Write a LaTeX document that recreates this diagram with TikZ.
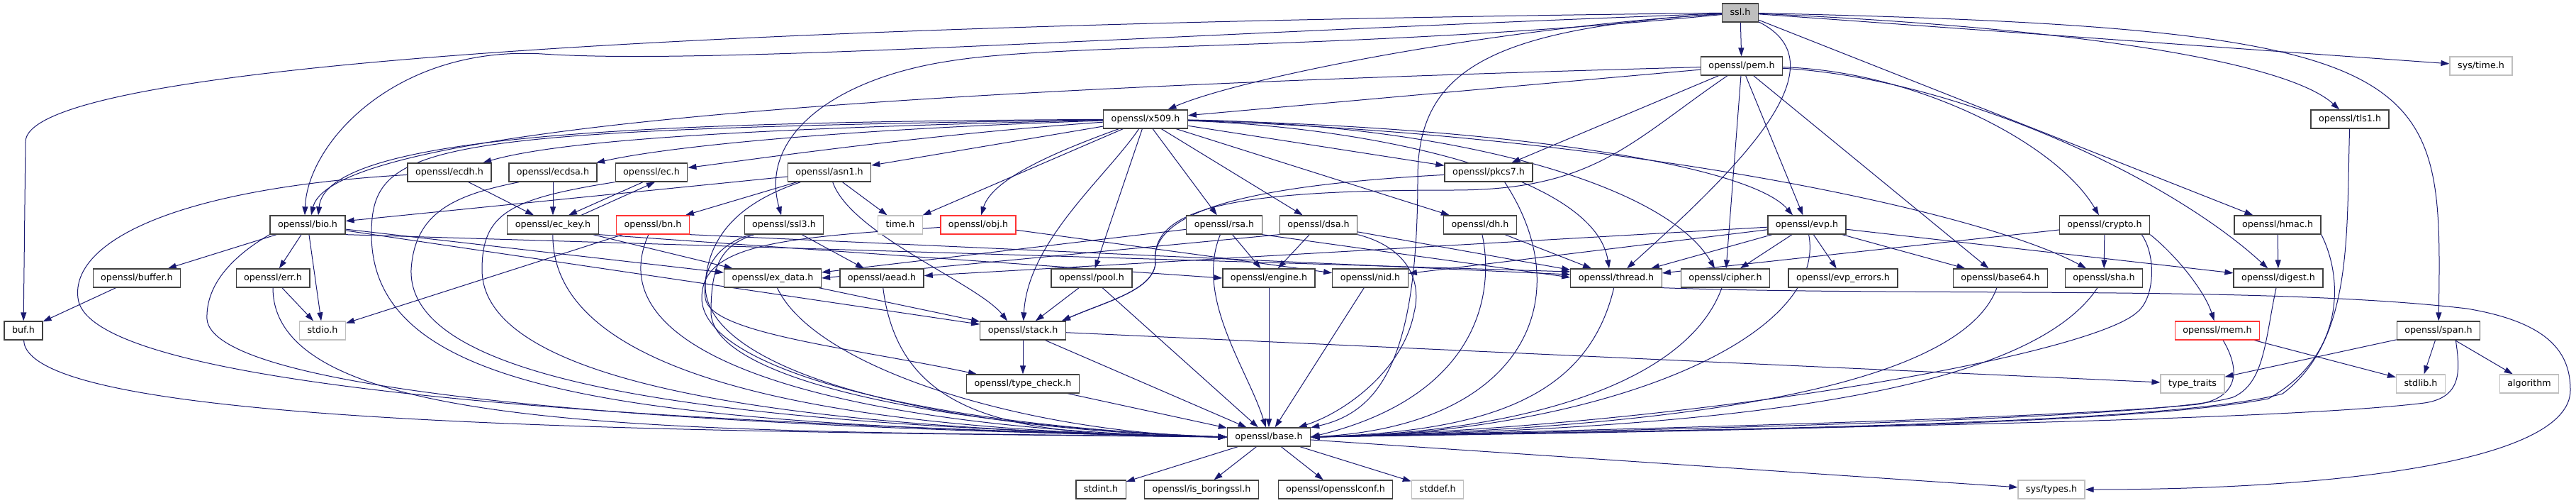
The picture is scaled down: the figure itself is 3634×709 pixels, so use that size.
\documentclass[tikz,border=0pt]{standalone}
\usepackage{fontspec}
\setmainfont{DejaVu Sans}
\usepackage{xcolor}
\usetikzlibrary{arrows.meta,backgrounds}
\definecolor{edgeblue}{HTML}{191970}
\definecolor{boxline}{HTML}{404040}
\definecolor{sysline}{HTML}{BFBFBF}
\definecolor{rootfill}{HTML}{BFBFBF}
\definecolor{missline}{HTML}{FF3333}

\begin{document}
\begin{tikzpicture}[x=1pt,y=-1pt,
      mybox/.style={
         rectangle,
         draw=boxline,
         fill=white,
         line width=1.3pt,
         minimum height=26pt,
         inner xsep=11pt,
         inner ysep=0pt,
         text height=9.5pt,
         text depth=3pt,
         font=\fontsize{12.7}{15}\selectfont},
      graybox/.style={mybox,draw=sysline},
      redbox/.style={mybox,draw=missline},
      rootbox/.style={mybox,fill=rootfill},
      myarrow/.style={draw=edgeblue,line width=1pt,-{Triangle[length=12pt,width=8pt]}}
      ]
      \useasboundingbox (0,0) rectangle (3634,709);

      \node[rootbox] (ssl) at (2455,18) {ssl.h};
      \node[mybox] (pem) at (2457,93) {openssl/pem.h};
      \node[graybox] (systime) at (3500,93) {sys/time.h};
      \node[mybox] (x509) at (1616,168) {openssl/x509.h};
      \node[mybox] (tls1) at (3315,168) {openssl/tls1.h};
      \node[mybox] (ecdh) at (634,243) {openssl/ecdh.h};
      \node[mybox] (ecdsa) at (780,243) {openssl/ecdsa.h};
      \node[mybox] (ec) at (919,243) {openssl/ec.h};
      \node[mybox] (asn1) at (1170,243) {openssl/asn1.h};
      \node[mybox] (pkcs7) at (2100,243) {openssl/pkcs7.h};
      \node[mybox] (bio) at (434,317) {openssl/bio.h};
      \node[mybox] (eckey) at (780,317) {openssl/ec\_key.h};
      \node[redbox] (bn) at (921,317) {openssl/bn.h};
      \node[mybox] (ssl3) at (1106,317) {openssl/ssl3.h};
      \node[graybox] (time) at (1270,317) {time.h};
      \node[redbox] (obj) at (1380,317) {openssl/obj.h};
      \node[mybox] (rsa) at (1727,317) {openssl/rsa.h};
      \node[mybox] (dsa) at (1860,317) {openssl/dsa.h};
      \node[mybox] (dh) at (2088,317) {openssl/dh.h};
      \node[mybox] (evp) at (2549,317) {openssl/evp.h};
      \node[mybox] (crypto) at (2969,317) {openssl/crypto.h};
      \node[mybox] (hmac) at (3213,317) {openssl/hmac.h};
      \node[mybox] (buffer) at (193,392) {openssl/buffer.h};
      \node[mybox] (err) at (385,392) {openssl/err.h};
      \node[mybox] (exdata) at (1090,392) {openssl/ex\_data.h};
      \node[mybox] (aead) at (1244,392) {openssl/aead.h};
      \node[mybox] (pool) at (1540,392) {openssl/pool.h};
      \node[mybox] (engine) at (1790,392) {openssl/engine.h};
      \node[mybox] (nid) at (1933,392) {openssl/nid.h};
      \node[mybox] (thread) at (2280,392) {openssl/thread.h};
      \node[mybox] (cipher) at (2434,392) {openssl/cipher.h};
      \node[mybox] (everr) at (2600,392) {openssl/evp\_errors.h};
      \node[mybox] (b64) at (2822,392) {openssl/base64.h};
      \node[mybox] (sha) at (2968,392) {openssl/sha.h};
      \node[mybox] (digest) at (3214,392) {openssl/digest.h};
      \node[mybox] (buf) at (33,466) {buf.h};
      \node[graybox] (stdio) at (455,466) {stdio.h};
      \node[mybox] (stack) at (1443,466) {openssl/stack.h};
      \node[redbox] (mem) at (3128,466) {openssl/mem.h};
      \node[mybox] (span) at (3440,466) {openssl/span.h};
      \node[mybox] (tcheck) at (1443,541) {openssl/type\_check.h};
      \node[graybox] (traits) at (3093,541) {type\_traits};
      \node[graybox] (stdlib) at (3415,541) {stdlib.h};
      \node[graybox] (algo) at (3568,541) {algorithm};
      \node[mybox] (base) at (1790,616) {openssl/base.h};
      \node[mybox] (stdint) at (1553,690) {stdint.h};
      \node[mybox] (isbssl) at (1695,690) {openssl/is\_boringssl.h};
      \node[mybox] (conf) at (1884,690) {openssl/opensslconf.h};
      \node[graybox] (stddef) at (2028,690) {stddef.h};
      \node[graybox] (systypes) at (2894,690) {sys/types.h};

    \begin{scope}[on background layer]
     \fill[white] (0,0) rectangle (3634,709);

    \foreach \i/\j in {% straight includes
      ssl/pem, ssl/systime, ssl/hmac,
      pem/x509, pem/pkcs7, pem/cipher, pem/evp, pem/b64,
      x509/asn1, x509/time, x509/pool, x509/rsa, x509/dsa, x509/dh, x509/pkcs7,
      asn1/bio, asn1/bn, asn1/time,
      ecdh/eckey, ecdsa/eckey, eckey/exdata,
      bio/buffer, bio/err, bio/stdio, bio/exdata, bio/stack,
      buffer/buf, err/stdio, bn/stdio,
      ssl3/aead, exdata/stack, pool/stack, obj/nid,
      rsa/engine, rsa/exdata, dsa/engine, dsa/thread, dh/thread,
      evp/aead, evp/nid, evp/thread, evp/cipher, evp/everr, evp/b64, evp/digest,
      crypto/sha, crypto/thread, hmac/digest,
      mem/stdlib, span/traits, span/stdlib, span/algo,
      stack/tcheck, stack/traits,
      tcheck/base, stack/base, pool/base, engine/base, nid/base,
      base/stdint, base/isbssl, base/conf, base/stddef, base/systypes}
       \draw[myarrow] (\i) -- (\j);

     \draw[myarrow] (bio.south east) -- ([yshift=9pt]thread.west);
     \draw[myarrow] (bn.south east) -- ([yshift=5pt]thread.west);
     \draw[myarrow] (rsa.south east) -- ([yshift=1pt]thread.west);
     \draw[myarrow] (eckey.south east) -- (engine.west);
     \draw[myarrow] (dsa.south west) -- (exdata.east);
     % ec.h and ec_key.h include each other
     \draw[myarrow] ([xshift=-12pt]ec.south) -- ([xshift=22pt]eckey.north);
     \draw[myarrow] ([xshift=40pt]eckey.north) -- ([xshift=5pt]ec.south);

     % long ones from ssl.h
     \draw[myarrow] (ssl) .. controls (700,38) and (36,110) .. (36,200) -- (buf);
     \draw[myarrow] (ssl) .. controls (1600,50) and (1000,92) .. (765,76) .. controls (560,64) and (434,200) .. ([xshift=-4pt]bio.north);
     \draw[myarrow] (ssl) .. controls (2100,40) and (1750,110) .. (x509);
     \draw[myarrow] (ssl) .. controls (1900,72) and (1500,60) .. (1340,86) .. controls (1180,110) and (1070,190) .. (ssl3);
     \draw[myarrow] (ssl) .. controls (2600,90) and (2460,230) .. (thread);
     \draw[myarrow] (ssl) .. controls (2100,40) and (2000,100) .. (2000,250) .. controls (2000,500) and (1950,580) .. (base);
     \draw[myarrow] (ssl) .. controls (2950,40) and (3230,90) .. (tls1);
     \draw[myarrow] (ssl) .. controls (3450,40) and (3445,100) .. (span);

     \draw[myarrow] (pem) .. controls (1400,122) and (470,170) .. ([xshift=5pt]bio.north);
     \draw[myarrow] (pem) .. controls (2300,200) and (2250,268) .. (2050,268) .. controls (1750,268) and (1620,290) .. (1630,372) .. controls (1625,410) and (1560,425) .. ([xshift=-6pt]stack.north east);
     \draw[myarrow] (pem) .. controls (2700,100) and (2900,200) .. (crypto);
     \draw[myarrow] (pem) .. controls (2760,110) and (3060,250) .. (digest);

     \draw[myarrow] (x509) .. controls (1100,180) and (800,195) .. (ecdh);
     \draw[myarrow] (x509) .. controls (1200,182) and (950,205) .. (ecdsa);
     \draw[myarrow] (x509) .. controls (1300,190) and (1060,225) .. (ec);
     \draw[myarrow] (x509) .. controls (900,172) and (460,190) .. ([xshift=15pt]bio.north);
     \draw[myarrow] (x509) .. controls (600,183) and (524,200) .. (524,330) .. controls (524,560) and (900,600) .. (base.west);
     \draw[myarrow] (x509) .. controls (1500,210) and (1400,250) .. (obj);
     \draw[myarrow] (x509) .. controls (1560,250) and (1450,340) .. (stack);
     \draw[myarrow] (x509) .. controls (1950,180) and (2250,250) .. ([xshift=-10pt]thread.north);
     \draw[myarrow] (x509) .. controls (2050,175) and (2350,260) .. ([xshift=-15pt]cipher.north);
     \draw[myarrow] (x509) .. controls (2150,180) and (2470,235) .. ([xshift=-20pt]evp.north);
     \draw[myarrow] (x509) .. controls (2300,190) and (2800,300) .. (sha);

     \draw[myarrow] (asn1) .. controls (1200,330) and (1380,400) .. ([xshift=-22pt]stack.north);
     \draw[myarrow] (pkcs7) .. controls (1750,262) and (1620,300) .. (1630,372) .. controls (1625,410) and (1560,425) .. ([xshift=-6pt]stack.north east);
     \draw[myarrow] (ssl3) .. controls (1010,345) and (990,380) .. (995,420) .. controls (1000,470) and (1200,490) .. (tcheck);
     \draw[myarrow] (crypto.south east) .. controls (3070,360) and (3110,410) .. (mem);
     \draw[myarrow] (thread.south east) .. controls (2700,418) and (3200,402) .. (3480,435) .. controls (3600,455) and (3626,500) .. (3626,550) .. controls (3626,650) and (3300,690) .. (systypes);

     % into openssl/base.h from the left
    \foreach \s/\ax/\ay/\bx/\by in {buf/38/600/900/608, err/385/620/1000/606,
      eckey/778/540/1200/608, bn/830/520/1250/608,
      exdata/1150/520/1450/610, aead/1270/600/1450/614}
       \draw[myarrow] (\s) .. controls (\ax,\ay) and (\bx,\by) .. (base.west);
     \draw[myarrow] (ecdh) .. controls (250,265) and (100,340) .. (110,420) .. controls (120,520) and (600,590) .. (base.west);
     \draw[myarrow] (bio.south west) .. controls (330,360) and (290,400) .. (292,450) .. controls (300,540) and (800,600) .. (base.west);
     \draw[myarrow] ([xshift=15pt]ecdsa.south west) .. controls (640,275) and (585,300) .. (580,380) .. controls (575,540) and (1000,600) .. (base.west);
     \draw[myarrow] (ec.south west) .. controls (720,280) and (680,300) .. (680,380) .. controls (680,540) and (1100,605) .. (base.west);
     \draw[myarrow] (asn1) .. controls (1060,280) and (1000,320) .. (995,400) .. controls (990,520) and (1300,605) .. (base.west);
     \draw[myarrow] (ssl3) .. controls (1020,345) and (1003,370) .. (1003,440) .. controls (1003,530) and (1300,600) .. (base.west);
     \draw[myarrow] (obj) .. controls (1100,335) and (990,345) .. (990,420) .. controls (990,520) and (1300,600) .. (base.west);

     % into openssl/base.h from above and from the right
     \draw[myarrow] (rsa) .. controls (1685,420) and (1760,520) .. (base);
     \draw[myarrow] (dsa.south east) .. controls (1990,350) and (2005,400) .. (1995,440) .. controls (1980,520) and (1900,580) .. (base);
     \draw[myarrow] (dh) .. controls (2110,420) and (2080,560) .. (base.east);
     \draw[myarrow] ([xshift=-40pt]pkcs7.south east) .. controls (2230,420) and (2150,600) .. (base.east);
    \foreach \s/\ax/\ay/\bx/\by in {thread/2240/560/2100/608, cipher/2380/540/2150/610,
      evp/2580/480/2250/612, b64/2760/560/2300/605, sha/2850/570/2350/605}
       \draw[myarrow] (\s) .. controls (\ax,\ay) and (\bx,\by) .. (base.east);
     \draw[myarrow] ([xshift=-12pt]crypto.south east) .. controls (3042,360) and (3040,420) .. (3015,440) .. controls (2950,500) and (2400,600) .. (base.east);
     \draw[myarrow] (mem) .. controls (3160,520) and (3160,560) .. (3100,570) .. controls (2900,590) and (2300,605) .. (base.east);
     \draw[myarrow] (digest) .. controls (3195,480) and (3195,540) .. (3150,560) .. controls (3050,590) and (2400,605) .. (base.east);
     \draw[myarrow] (hmac.south east) .. controls (3305,390) and (3310,500) .. (3200,562) .. controls (3000,600) and (2400,608) .. (base.east);
     \draw[myarrow] (tls1) .. controls (3310,330) and (3320,480) .. (3220,555) .. controls (3050,600) and (2400,606) .. (base.east);
     \draw[myarrow] ([xshift=-35pt]span.south east) .. controls (3470,520) and (3475,560) .. (3420,568) .. controls (3200,595) and (2400,606) .. (base.east);
    \end{scope}
    \end{tikzpicture}
\end{document}
